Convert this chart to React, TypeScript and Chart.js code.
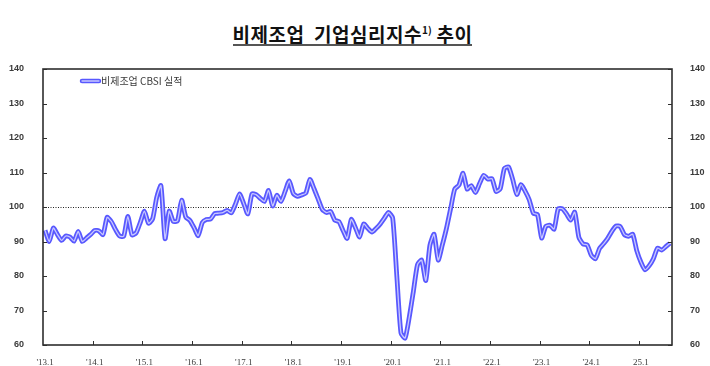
import React, { useEffect, useRef } from "react";
import { Chart, registerables } from "chart.js";

Chart.register(...registerables);

const TITLE_MAIN = "비제조업  기업심리지수";
const TITLE_SUP = "1)";
const TITLE_TAIL = " 추이";
const SERIES_LABEL = "비제조업 CBSI 실적";

const FIRST_YEAR = 2013;
const MONTHS_IN_LAST_YEAR = 8;
const YEAR_TICK_LABELS = [
  "'13.1", "'14.1", "'15.1", "'16.1", "'17.1", "'18.1", "'19.1",
  "'20.1", "'21.1", "'22.1", "'23.1", "'24.1", "25.1",
];

const Y_MIN = 60;
const Y_MAX = 140;
const Y_STEP = 10;
const BASELINE = 100;

const CBSI_2013 = [93.2, 90.0, 93.9, 92.0, 90.3, 91.6, 91.3, 90.1, 92.9, 90.0, 91.0, 92.0];
const CBSI_2014 = [93.2, 93.1, 92.0, 97.0, 95.8, 93.5, 91.6, 91.5, 97.3, 91.9, 92.5, 95.5];
const CBSI_2015 = [98.8, 95.3, 96.6, 102.9, 106.2, 90.8, 98.8, 95.8, 96.0, 102.0, 97.1, 96.1];
const CBSI_2016 = [94.0, 91.7, 95.5, 96.4, 96.5, 98.1, 98.2, 98.4, 99.0, 98.3, 100.8, 103.8];
const CBSI_2017 = [101.0, 98.0, 103.8, 103.6, 102.5, 101.6, 104.8, 100.3, 103.4, 101.6, 104.5, 107.6];
const CBSI_2018 = [103.9, 103.1, 103.5, 104.0, 108.0, 105.3, 102.3, 99.3, 98.4, 98.7, 96.2, 95.8];
const CBSI_2019 = [93.2, 90.9, 96.4, 94.0, 91.3, 95.1, 93.8, 92.7, 93.8, 95.1, 96.8, 98.4];
const CBSI_2020 = [96.8, 80.0, 63.5, 62.0, 68.0, 75.5, 83.3, 84.6, 78.7, 88.9, 92.1, 84.6];
const CBSI_2021 = [89.0, 93.8, 99.5, 105.2, 106.3, 109.8, 105.2, 106.2, 104.2, 106.8, 109.2, 108.1];
const CBSI_2022 = [108.2, 104.5, 105.3, 111.2, 111.6, 108.0, 103.6, 106.5, 104.6, 102.1, 98.2, 97.8];
const CBSI_2023 = [91.0, 94.4, 94.7, 93.6, 99.5, 99.5, 98.0, 96.2, 98.5, 91.2, 89.3, 89.0];
const CBSI_2024 = [86.0, 85.0, 88.0, 89.4, 91.0, 93.0, 94.5, 94.3, 92.0, 91.5, 92.1, 87.3];
const CBSI_2025 = [84.0, 81.8, 83.0, 85.0, 88.1, 87.5, 88.5, 89.5];

const CBSI_VALUES = [
  ...CBSI_2013, ...CBSI_2014, ...CBSI_2015, ...CBSI_2016, ...CBSI_2017,
  ...CBSI_2018, ...CBSI_2019, ...CBSI_2020, ...CBSI_2021, ...CBSI_2022,
  ...CBSI_2023, ...CBSI_2024, ...CBSI_2025,
];

const CATEGORIES: string[] = [];
YEAR_TICK_LABELS.forEach((_, yi) => {
  const months = yi === YEAR_TICK_LABELS.length - 1 ? MONTHS_IN_LAST_YEAR : 12;
  for (let m = 1; m <= months; m++) CATEGORIES.push(`${FIRST_YEAR + yi}.${m}`);
});

const OUTER_COLOR = "rgb(88, 88, 255)";
const INNER_COLOR = "rgb(200, 200, 255)";
const AXIS_COLOR = "#2e2e2e";
const TEXT_COLOR = "#3a3a3a";

const decorPlugin = {
  id: "decor",
  beforeDatasetsDraw(chart: any) {
    const { ctx, chartArea: a, scales } = chart;
    const y = Math.round(scales.y.getPixelForValue(BASELINE)) + 0.5;
    ctx.save();
    ctx.strokeStyle = "#222";
    ctx.lineWidth = 1;
    ctx.setLineDash([1, 1.5]);
    ctx.beginPath();
    ctx.moveTo(a.left, y);
    ctx.lineTo(a.right, y);
    ctx.stroke();
    ctx.restore();
  },
  afterDraw(chart: any) {
    const { ctx, chartArea: a, scales } = chart;
    ctx.save();
    ctx.strokeStyle = AXIS_COLOR;
    ctx.lineWidth = 1.6;
    ctx.strokeRect(a.left, a.top, a.right - a.left, a.bottom - a.top);
    ctx.lineWidth = 1;
    ctx.beginPath();
    for (let v = Y_MIN; v <= Y_MAX; v += Y_STEP) {
      const py = Math.round(scales.y.getPixelForValue(v)) + 0.5;
      ctx.moveTo(a.left, py);
      ctx.lineTo(a.left + 4, py);
      ctx.moveTo(a.right, py);
      ctx.lineTo(a.right - 4, py);
    }
    CATEGORIES.forEach((_, i) => {
      if (i > 0 && i % 12 === 0) {
        const px = Math.round(scales.x.getPixelForValue(i - 0.5)) + 0.5;
        ctx.moveTo(px, a.bottom);
        ctx.lineTo(px, a.bottom - 4);
      }
    });
    ctx.stroke();

    // legend
    const lx = a.left + 39;
    const ly = a.top + 12;
    ctx.lineCap = "round";
    ctx.strokeStyle = OUTER_COLOR;
    ctx.lineWidth = 4.5;
    ctx.beginPath();
    ctx.moveTo(lx, ly);
    ctx.lineTo(lx + 17, ly);
    ctx.stroke();
    ctx.strokeStyle = INNER_COLOR;
    ctx.lineWidth = 1.3;
    ctx.beginPath();
    ctx.moveTo(lx, ly);
    ctx.lineTo(lx + 17, ly);
    ctx.stroke();
    ctx.fillStyle = TEXT_COLOR;
    ctx.font = '10px "Noto Sans CJK KR", sans-serif';
    ctx.textBaseline = "middle";
    ctx.textAlign = "left";
    ctx.fillText(SERIES_LABEL, lx + 19, ly);
    ctx.restore();
  },
};

export default function App() {
  const canvasRef = useRef<HTMLCanvasElement | null>(null);

  useEffect(() => {
    if (!canvasRef.current) return;
    const yTickFont = { family: '"Liberation Sans", Arial, sans-serif', size: 9, weight: "bold" as const };
    const chart = new Chart(canvasRef.current, {
      type: "line",
      data: {
        labels: CATEGORIES,
        datasets: [
          {
            label: SERIES_LABEL,
            data: CBSI_VALUES,
            borderColor: INNER_COLOR,
            borderWidth: 1.3,
            pointRadius: 0,
            tension: 0.2,
            fill: false,
            order: 0,
          },
          {
            label: SERIES_LABEL + " outline",
            data: CBSI_VALUES,
            borderColor: OUTER_COLOR,
            borderWidth: 4.8,
            pointRadius: 0,
            tension: 0.2,
            fill: false,
            order: 1,
          },
        ],
      },
      options: {
        animation: false,
        responsive: true,
        maintainAspectRatio: false,
        layout: { padding: { top: 69, left: 0, right: 0, bottom: 0 } },
        plugins: { legend: { display: false }, tooltip: { enabled: false } },
        scales: {
          x: {
            type: "category",
            offset: true,
            grid: { display: false, offset: true },
            border: { display: false },
            afterFit: (s: any) => { s.height = 21; },
            ticks: {
              autoSkip: false,
              maxRotation: 0,
              minRotation: 0,
              padding: 4,
              color: TEXT_COLOR,
              font: { family: '"Liberation Serif", "Times New Roman", serif', size: 9 },
              callback: (_v: any, i: number) => (i % 12 === 0 ? YEAR_TICK_LABELS[i / 12] : ""),
            },
          },
          y: {
            position: "left",
            min: Y_MIN,
            max: Y_MAX,
            grid: { display: false },
            border: { display: false },
            afterFit: (s: any) => { s.width = 43; },
            ticks: { stepSize: Y_STEP, padding: 11, color: TEXT_COLOR, font: yTickFont },
          },
          y2: {
            position: "right",
            min: Y_MIN,
            max: Y_MAX,
            grid: { display: false },
            border: { display: false },
            afterFit: (s: any) => { s.width = 38; },
            ticks: { stepSize: Y_STEP, padding: 10, color: TEXT_COLOR, font: yTickFont },
          },
        },
      },
      plugins: [decorPlugin],
    });
    return () => chart.destroy();
  }, []);

  return (
    <div style={{ position: "fixed", left: 0, top: 0, width: 710, height: 366, background: "#fff" }}>
      <div
        style={{
          position: "absolute",
          left: 0,
          top: 24,
          width: 705,
          textAlign: "center",
          fontFamily: '"Noto Sans CJK KR", sans-serif',
          fontWeight: 700,
          fontSize: 19,
          letterSpacing: 0.5,
          lineHeight: "19px",
          color: "#111",
          whiteSpace: "pre",
        }}
      >
        <span style={{ display: "inline-block", borderBottom: "2px solid #555", paddingBottom: 1 }}>
          {TITLE_MAIN}
          <sup style={{ fontSize: 10, lineHeight: "10px", verticalAlign: "8px", letterSpacing: 0 }}>{TITLE_SUP}</sup>
          {TITLE_TAIL}
        </span>
      </div>
      <div style={{ position: "absolute", left: 0, top: 0, width: 710, height: 366 }}>
        <canvas ref={canvasRef} />
      </div>
    </div>
  );
}
